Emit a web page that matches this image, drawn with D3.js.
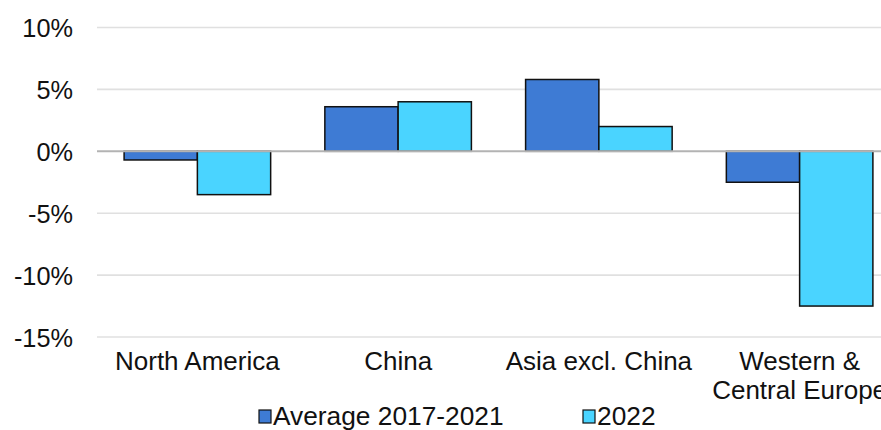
<!DOCTYPE html>
<meta charset="utf-8">
<style>
body { margin: 0; background: #fff; }
svg { display: block; font-family: Arial, "Liberation Sans", sans-serif; }
.tick text { font-size: 25.3px; fill: #111; }
.cat { font-size: 26px; fill: #111; text-anchor: middle; }
.legend text { font-size: 26.3px; fill: #111; }
</style>
<svg width="881" height="430"></svg>
<script src="https://d3js.org/d3.v7.min.js"></script>
<script>

var categories = ["North America", "China", "Asia excl. China", "Western &\nCentral Europe"];
var seriesNames = ["Average 2017-2021", "2022"];
var avg = [-0.7, 3.6, 5.8, -2.5];
var y2022 = [-3.5, 4.0, 2.0, -12.5];
var yTicks = [10, 5, 0, -5, -10, -15];
var colors = ["#3E7BD4", "#4AD4FF"];

var svg = d3.select("svg");

var x = d3.scaleBand()
    .domain(categories)
    .range([97, 900])
    .paddingInner(0.27)
    .paddingOuter(0.135);

var sub = d3.scaleBand()
    .domain(seriesNames)
    .range([0, x.bandwidth()]);

var y = d3.scaleLinear()
    .domain([-15, 10])
    .range([337, 27.5]);

// gridlines
svg.append("g").selectAll("line")
  .data(yTicks.filter(function(d) { return d !== 0; }))
  .enter().append("line")
    .attr("x1", 97).attr("x2", 881)
    .attr("y1", function(d) { return y(d); })
    .attr("y2", function(d) { return y(d); })
    .attr("stroke", "#e0e0e0")
    .attr("stroke-width", 1.6);

// y axis labels
var yAxis = svg.append("g")
    .attr("transform", "translate(97,0)")
    .call(d3.axisLeft(y).tickValues(yTicks).tickSize(0).tickPadding(24)
      .tickFormat(function(d) { return d + "%"; }));
yAxis.select(".domain").remove();
yAxis.selectAll(".tick text").attr("dy", "0.36em");

// bars
var rows = categories.map(function(c, i) {
  return { cat: c, vals: [avg[i], y2022[i]] };
});

var groups = svg.append("g").selectAll("g")
  .data(rows)
  .enter().append("g")
    .attr("transform", function(d) { return "translate(" + x(d.cat) + ",0)"; });

groups.selectAll("rect")
  .data(function(d) { return d.vals.map(function(v, j) { return { s: seriesNames[j], v: v, j: j }; }); })
  .enter().append("rect")
    .attr("x", function(d) { return sub(d.s); })
    .attr("width", sub.bandwidth())
    .attr("y", function(d) { return Math.min(y(d.v), y(0)); })
    .attr("height", function(d) { return Math.abs(y(d.v) - y(0)); })
    .attr("fill", function(d) { return colors[d.j]; })
    .attr("stroke", "#111")
    .attr("stroke-width", 1.5);

// zero line
svg.append("line")
    .attr("x1", 97).attr("x2", 881)
    .attr("y1", y(0)).attr("y2", y(0))
    .attr("stroke", "#b3b3b3")
    .attr("stroke-width", 2);

// category labels
svg.append("g").selectAll("text")
  .data(categories)
  .enter().append("text")
    .attr("class", "cat")
    .attr("x", function(d) { return x(d) + x.bandwidth() / 2; })
    .attr("y", 370)
    .each(function(d) {
      var t = d3.select(this);
      d.split("\n").forEach(function(line, i) {
        t.append("tspan")
          .attr("x", x(d) + x.bandwidth() / 2)
          .attr("dy", i ? 29 : 0)
          .text(line);
      });
    });

// legend
var legendX = [259, 583];
var legend = svg.append("g").attr("class", "legend");
seriesNames.forEach(function(name, i) {
  legend.append("rect")
    .attr("x", legendX[i]).attr("y", 410)
    .attr("width", 12).attr("height", 13)
    .attr("fill", colors[i])
    .attr("stroke", "#111")
    .attr("stroke-width", 1.2);
  legend.append("text")
    .attr("x", legendX[i] + 14)
    .attr("y", 425)
    .text(name);
});

</script>
